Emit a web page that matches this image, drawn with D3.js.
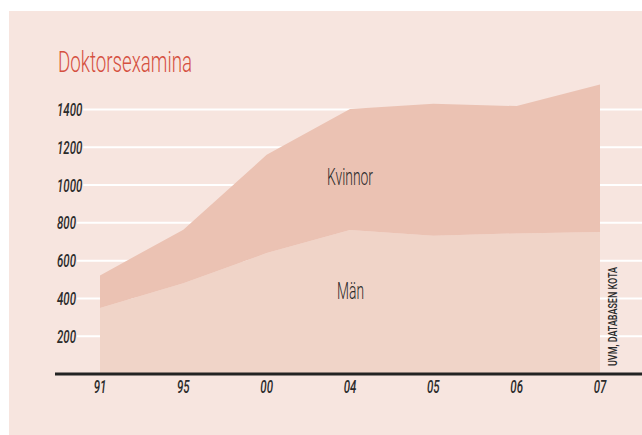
<!DOCTYPE html>
<html>
<head>
<meta charset="utf-8">
<script src="https://cdn.jsdelivr.net/npm/d3@7"></script>
<style>
  body { margin: 0; background: #fff; }
  text { font-family: Roboto, "Liberation Sans", sans-serif; fill: #2b2b2b; }
</style>
</head>
<body>
<div id="chart"></div>
<script>
// values
const years = ['91', '95', '00', '04', '05', '06', '07'];
const man = [350, 480, 640, 762, 732, 744, 752];
const kvinnor = [172, 284, 520, 641, 698, 674, 780];
const yTicks = [200, 400, 600, 800, 1000, 1200, 1400];

const width = 642, height = 435;

const svg = d3.select('#chart').append('svg')
    .attr('width', width)
    .attr('height', height);

// panel
svg.append('rect')
    .attr('x', 9).attr('y', 11)
    .attr('width', width - 9).attr('height', height - 11)
    .attr('fill', '#f7e5df');

const x = d3.scalePoint().domain(years).range([100, 600]);
const y = d3.scaleLinear().domain([0, 1400]).range([374, 109.5]);

const rows = years.map((yr, i) => ({ year: yr, man: man[i], kvinnor: kvinnor[i] }));
const stack = d3.stack().keys(['man', 'kvinnor'])(rows);

// y labels, then gridlines starting where each label ends
const yLabels = svg.append('g');
yTicks.forEach(t => {
    let lbl = yLabels.append('text')
        .attr('transform', `translate(57, ${y(t) + 6.5}) scale(0.62, 1)`)
        .attr('font-size', 18.5)
        .attr('font-style', 'italic')
        .attr('font-weight', 500)
        .text(t);
    let w = lbl.node().getComputedTextLength() * 0.62;
    svg.insert('line', 'g')
        .attr('x1', 57 + w + 1).attr('x2', width)
        .attr('y1', y(t)).attr('y2', y(t))
        .attr('stroke', '#fff')
        .attr('stroke-width', 2);
});

const area = d3.area()
    .x(d => x(d.data.year))
    .y0(d => y(d[0]))
    .y1(d => y(d[1]));

const colors = { man: '#f0d4c8', kvinnor: '#ebc2b3' };

svg.append('g')
    .selectAll('path')
    .data(stack)
    .join('path')
    .attr('fill', d => colors[d.key])
    .attr('d', area);

// x axis line
svg.append('line')
    .attr('x1', 55).attr('x2', width)
    .attr('y1', 374).attr('y2', 374)
    .attr('stroke', '#232323')
    .attr('stroke-width', 3);

years.forEach(yr => {
    svg.append('text')
        .attr('transform', `translate(${x(yr)}, 393) scale(0.62, 1)`)
        .attr('text-anchor', 'middle')
        .attr('font-size', 18.5)
        .attr('font-style', 'italic')
        .attr('font-weight', 500)
        .text(yr);
});

// title
svg.append('text')
    .attr('x', 58).attr('y', 72)
    .attr('font-size', 30)
    .attr('font-weight', 300)
    .attr('textLength', 134)
    .attr('lengthAdjust', 'spacingAndGlyphs')
    .style('fill', '#d5503f')
    .text('Doktorsexamina');

// series labels
svg.append('text')
    .attr('x', 327).attr('y', 185)
    .attr('font-size', 24)
    .attr('font-weight', 300)
    .attr('textLength', 46)
    .attr('lengthAdjust', 'spacingAndGlyphs')
    .text('Kvinnor');

svg.append('text')
    .attr('x', 337).attr('y', 299)
    .attr('font-size', 23)
    .attr('font-weight', 300)
    .attr('textLength', 27)
    .attr('lengthAdjust', 'spacingAndGlyphs')
    .text('Män');

// source
svg.append('text')
    .attr('transform', 'translate(617, 366) rotate(-90)')
    .attr('font-size', 12.5)
    .attr('font-weight', 500)
    .attr('textLength', 99)
    .attr('lengthAdjust', 'spacingAndGlyphs')
    .text('UVM, DATABASEN KOTA');
</script>
</body>
</html>
